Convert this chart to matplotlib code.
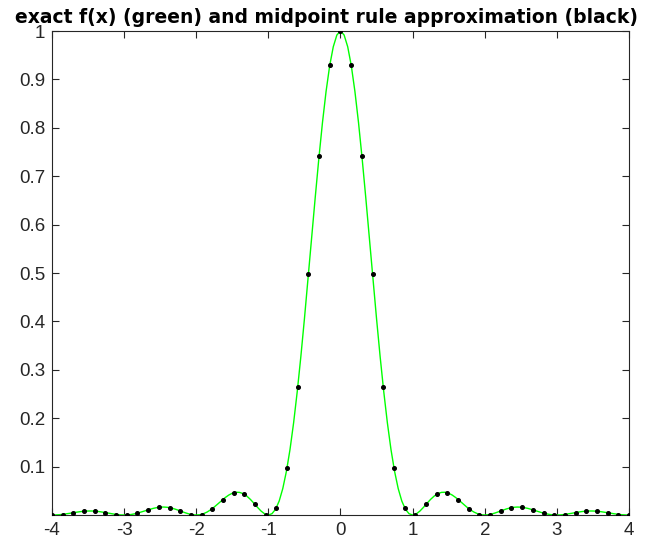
import numpy as np
import matplotlib
matplotlib.use("Agg")
import matplotlib.pyplot as plt

# Exact curve, sampled at x = 0, 0.05, ..., 4 (symmetric about 0)
curve_x_half = np.round(np.arange(0, 81) * 0.05, 2)
curve_y_half = [
    1.0, 0.9918, 0.9675, 0.9282, 0.8751, 0.8106, 0.7368, 0.6566, 0.5728, 0.4881,
    0.4053, 0.3267, 0.2546, 0.1904, 0.1353, 0.0901, 0.0547, 0.0289, 0.01195, 0.00275,
    0.0, 0.00225, 0.0080, 0.01579, 0.02431, 0.03242, 0.03924, 0.04414, 0.04676, 0.04701,
    0.04503, 0.04114, 0.0358, 0.02955, 0.02295, 0.01654, 0.0108, 0.0061, 0.00268, 0.00065,
    0.0, 0.00059, 0.00219, 0.00452, 0.00723, 0.01001, 0.01254, 0.01457, 0.01591, 0.01647,
    0.01621, 0.0152, 0.01356, 0.01145, 0.0091, 0.0067, 0.00447, 0.00257, 0.00115, 0.00028,
    0.0, 0.00027, 0.00101, 0.0021, 0.00342, 0.0048, 0.00609, 0.00717, 0.00793, 0.0083,
    0.00827, 0.00784, 0.00707, 0.00604, 0.00484, 0.0036, 0.00242, 0.00141, 0.00064, 0.00016,
    0.0,
]

# Midpoint rule approximation values (black dots), 55 points from -4 to 4
dot_y = [
    0.000, 0.001, 0.005, 0.008, 0.008, 0.005, 0.001, 0.000, 0.004, 0.011,
    0.016, 0.015, 0.008, 0.001, 0.001, 0.013, 0.032, 0.046, 0.043, 0.022,
    0.001, 0.015, 0.098, 0.265, 0.498, 0.742, 0.930, 1.000, 0.930, 0.742,
    0.498, 0.265, 0.098, 0.015, 0.001, 0.022, 0.043, 0.046, 0.032, 0.013,
    0.001, 0.001, 0.008, 0.015, 0.016, 0.011, 0.004, 0.000, 0.001, 0.005,
    0.008, 0.008, 0.005, 0.001, 0.000,
]
dot_x = np.linspace(-4, 4, len(dot_y))

x_ticks = [-4, -3, -2, -1, 0, 1, 2, 3, 4]
y_ticks = [0.1, 0.2, 0.3, 0.4, 0.5, 0.6, 0.7, 0.8, 0.9, 1]
y_ticklabels = ["0.1", "0.2", "0.3", "0.4", "0.5", "0.6", "0.7", "0.8", "0.9", "1"]
title = "exact f(x) (green) and midpoint rule approximation (black)"

curve_x = np.concatenate([-curve_x_half[::-1][:-1], curve_x_half])
curve_y = np.concatenate([np.array(curve_y_half)[::-1][:-1], curve_y_half])

plt.rcParams['font.family'] = ['Liberation Sans', 'DejaVu Sans']
fig = plt.figure(figsize=(6.57, 5.48), dpi=100)
ax = fig.add_axes([0.0791, 0.0602, 0.8783, 0.8832])
ax.plot(curve_x, curve_y, color='#00ff00', lw=1.0, zorder=2)
ax.plot(dot_x, dot_y, 'o', color='black', ms=2.6, zorder=3)
ax.set_xlim(-4, 4)
ax.set_ylim(0, 1)
ax.set_xticks(x_ticks)
ax.set_xticklabels([str(t) for t in x_ticks])
ax.set_yticks(y_ticks)
ax.set_yticklabels(y_ticklabels)
ax.tick_params(direction='in', length=5, width=0.8, labelsize=13.5, colors='#262626',
               top=True, right=True, pad=5)
for s in ax.spines.values():
    s.set_color('#262626')
    s.set_linewidth(0.8)
ax.set_title(title, fontsize=13.5, fontweight='bold', pad=6, x=0.476,
             family=['DejaVu Sans'])
fig.savefig('out.png', dpi=100)
